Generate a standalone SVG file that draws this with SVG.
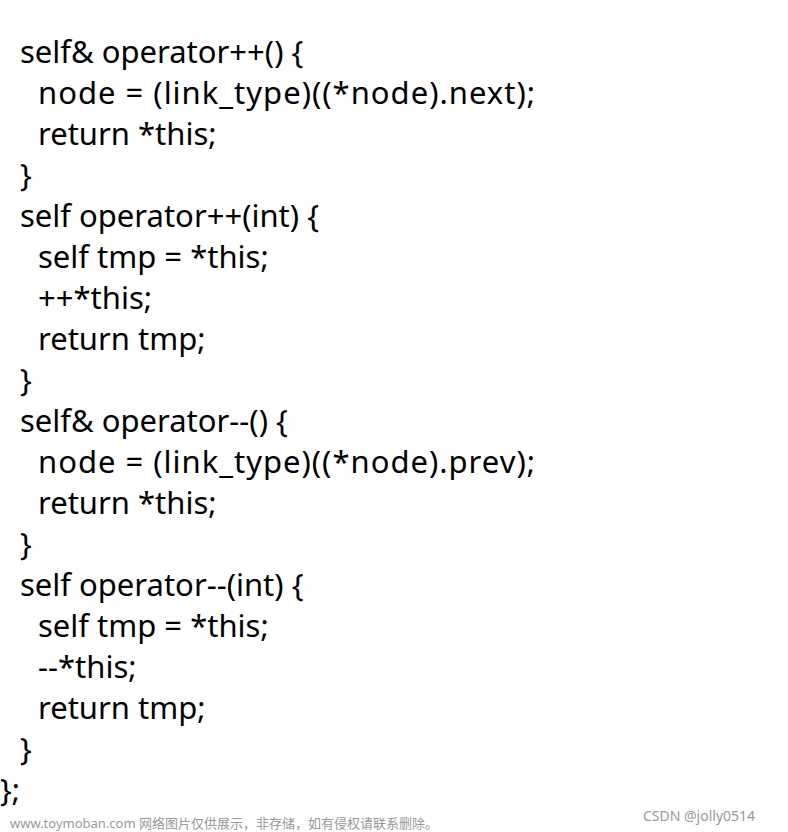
<svg xmlns="http://www.w3.org/2000/svg" width="788" height="832" viewBox="0 0 788 832">
<style>
.c{font-family:"Noto Sans","Open Sans",sans-serif;font-size:31px;fill:#000}
.w{font-family:"Noto Sans","Noto Sans CJK SC",sans-serif;font-size:13px;fill:#999}
</style>
<rect width="788" height="832" fill="#fff"/>
<g id="code">
<text class="c" x="20" y="63">self&amp; operator++() {</text>
<text class="c" x="38" y="104" textLength="497">node = (link_type)((*node).next);</text>
<text class="c" x="38" y="145">return *this;</text>
<text class="c" x="20" y="186">}</text>
<text class="c" x="20" y="227">self operator++(int) {</text>
<text class="c" x="38" y="268">self tmp = *this;</text>
<text class="c" x="38" y="309">++*this;</text>
<text class="c" x="38" y="350">return tmp;</text>
<text class="c" x="20" y="391">}</text>
<text class="c" x="20" y="432">self&amp; operator--() {</text>
<text class="c" x="38" y="473" textLength="497">node = (link_type)((*node).prev);</text>
<text class="c" x="38" y="514">return *this;</text>
<text class="c" x="20" y="555">}</text>
<text class="c" x="20" y="596">self operator--(int) {</text>
<text class="c" x="38" y="637">self tmp = *this;</text>
<text class="c" x="38" y="678">--*this;</text>
<text class="c" x="38" y="719">return tmp;</text>
<text class="c" x="20" y="760">}</text>
<text class="c" x="0" y="801">};</text>
</g>
<text class="w" x="10" y="828">www.toymoban.com 网络图片仅供展示，非存储，如有侵权请联系删除。</text>
<text class="w" x="643" y="821" style="font-size:14px">CSDN @jolly0514</text>
</svg>
